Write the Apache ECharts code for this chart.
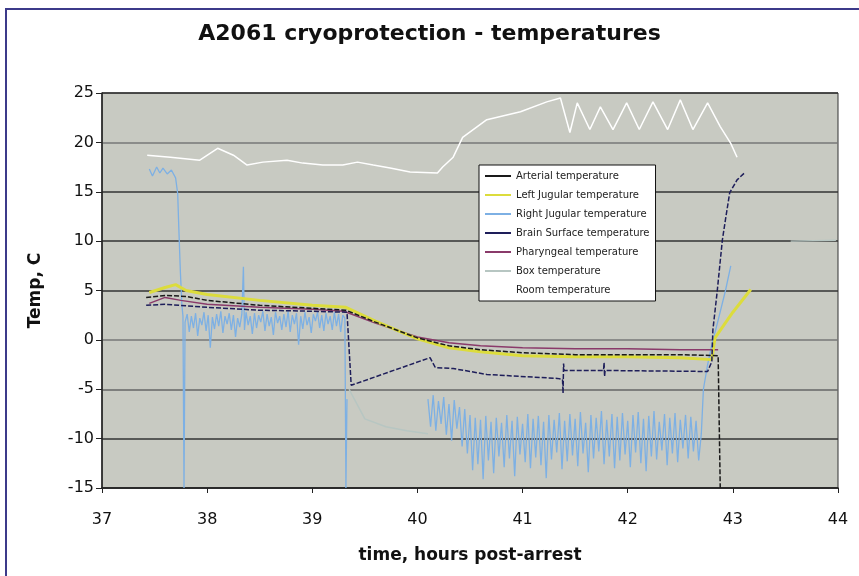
<!DOCTYPE html>
<html>
<head>
<meta charset="utf-8">
<script src="https://cdn.jsdelivr.net/npm/echarts@6/dist/echarts.min.js"></script>
<style>
  html, body { margin: 0; padding: 0; background: #fff; }
  #chart { width: 859px; height: 576px; }
</style>
</head>
<body>
<div id="chart"></div>
<script>
// legend names, in the order shown in the box
const seriesNames = [
  "Arterial temperature",
  "Left Jugular temperature",
  "Right Jugular temperature",
  "Brain Surface temperature",
  "Pharyngeal temperature",
  "Box temperature",
  "Room temperature"
];
const yTicks = [-15, -10, -5, 0, 5, 10, 15, 20, 25];
const xTicks = [37, 38, 39, 40, 41, 42, 43, 44];

// [time (h post-arrest), temp (C)]
const arterialTemp = [
  [37.42, 4.3], [37.6, 4.5], [37.8, 4.4], [38.0, 4.0], [38.5, 3.5], [39.0, 3.2],
  [39.32, 3.0], [39.6, 1.8], [40.0, 0.2], [40.3, -0.6], [40.6, -1.0], [41.0, -1.3],
  [41.5, -1.5], [42.0, -1.5], [42.5, -1.5], [42.86, -1.6], [42.88, -15]
];
const leftJugularTemp = [
  [37.45, 4.8], [37.6, 5.3], [37.7, 5.6], [37.8, 5.0], [38.0, 4.6], [38.5, 4.0],
  [39.0, 3.5], [39.32, 3.3], [39.6, 1.9], [40.0, 0.1], [40.3, -0.8], [40.6, -1.2],
  [41.0, -1.6], [41.5, -1.7], [42.0, -1.7], [42.5, -1.8], [42.8, -2.0], [42.83, 0.2],
  [43.0, 2.8], [43.17, 5.1]
];
const rightJugularTemp = [
  [37.45, 17.3], [37.48, 16.6], [37.52, 17.5], [37.55, 16.9], [37.58, 17.4], [37.62, 16.8],
  [37.66, 17.2], [37.70, 16.4], [37.72, 14.8], [37.73, 11.5], [37.745, 7.0], [37.76, 3.5],
  [37.77, 2.4], [37.78, -15], [37.79, 1.8],
  [37.81, 2.6], [37.83, 0.8], [37.85, 2.4], [37.87, 1.2], [37.89, 2.7], [37.91, 0.4],
  [37.93, 2.2], [37.95, 1.5], [37.97, 2.8], [37.99, 0.9], [38.01, 2.5], [38.03, -0.8],
  [38.05, 2.3], [38.07, 1.1], [38.09, 2.6], [38.11, 1.4], [38.13, 2.9], [38.15, 0.7],
  [38.17, 2.4], [38.19, 1.6], [38.21, 2.7], [38.23, 1.0], [38.25, 2.5], [38.27, 0.3],
  [38.29, 2.2], [38.31, 1.3], [38.33, 2.6], [38.345, 7.4], [38.355, 1.0], [38.37, 2.8],
  [38.39, 1.5], [38.41, 2.4], [38.43, 0.6], [38.45, 2.7], [38.47, 1.2], [38.49, 2.5],
  [38.51, 1.8], [38.53, 2.9], [38.55, 0.9], [38.57, 2.6], [38.59, 1.4], [38.61, 2.3],
  [38.63, 0.5], [38.65, 2.8], [38.67, 1.7], [38.69, 2.4], [38.71, 1.0], [38.73, 2.6],
  [38.75, 1.3], [38.77, 2.9], [38.79, 0.8], [38.81, 2.5], [38.83, 1.6], [38.85, 2.7],
  [38.87, -0.5], [38.89, 2.4], [38.91, 1.1], [38.93, 2.8], [38.95, 1.5], [38.97, 2.3],
  [38.99, 0.7], [39.01, 2.6], [39.03, 1.9], [39.05, 2.8], [39.07, 1.2], [39.09, 2.5],
  [39.11, 0.9], [39.13, 2.7], [39.15, 1.6], [39.17, 2.4], [39.19, 1.0], [39.21, 2.8],
  [39.23, 1.4], [39.25, 2.6], [39.27, 0.8], [39.29, 2.5], [39.31, 2.2], [39.32, -15],
  [39.33, -6.0], [39.34, "-"],
  [40.10, -6.0], [40.125, -8.8], [40.15, -5.6], [40.175, -9.2], [40.20, -6.2], [40.225, -8.5],
  [40.25, -5.8], [40.275, -9.6], [40.30, -6.5], [40.325, -10.2], [40.35, -6.1], [40.375, -9.0],
  [40.40, -6.8], [40.425, -10.8], [40.45, -7.0], [40.475, -11.5], [40.50, -7.6], [40.525, -13.2],
  [40.55, -7.9], [40.575, -12.6], [40.60, -8.1], [40.625, -14.1], [40.65, -7.7], [40.675, -12.2],
  [40.70, -8.3], [40.725, -13.5], [40.75, -7.9], [40.775, -11.8], [40.80, -8.4], [40.825, -12.9],
  [40.85, -7.6], [40.875, -12.0], [40.90, -8.2], [40.925, -13.8], [40.95, -7.8], [40.975, -11.6],
  [41.00, -8.5], [41.025, -12.4], [41.05, -7.5], [41.075, -13.0], [41.10, -8.0], [41.125, -11.9],
  [41.15, -7.7], [41.175, -12.7], [41.20, -8.3], [41.225, -14.0], [41.25, -7.6], [41.275, -12.1],
  [41.30, -8.1], [41.325, -11.4], [41.35, -7.4], [41.375, -13.1], [41.40, -8.2], [41.425, -12.3],
  [41.45, -7.5], [41.475, -11.7], [41.50, -8.0], [41.525, -12.8], [41.55, -7.3], [41.575, -11.5],
  [41.60, -8.4], [41.625, -13.4], [41.65, -7.6], [41.675, -12.0], [41.70, -7.9], [41.725, -11.3],
  [41.75, -7.2], [41.775, -12.6], [41.80, -8.1], [41.825, -11.8], [41.85, -7.5], [41.875, -13.0],
  [41.90, -7.8], [41.925, -12.2], [41.95, -7.4], [41.975, -11.6], [42.00, -8.2], [42.025, -12.9],
  [42.05, -7.6], [42.075, -11.4], [42.10, -7.3], [42.125, -12.5], [42.15, -8.0], [42.175, -13.3],
  [42.20, -7.7], [42.225, -11.8], [42.25, -7.2], [42.275, -12.1], [42.30, -8.3], [42.325, -11.2],
  [42.35, -7.5], [42.375, -12.7], [42.40, -7.9], [42.425, -11.5], [42.45, -7.4], [42.475, -12.4],
  [42.50, -8.1], [42.525, -11.0], [42.55, -7.6], [42.575, -12.0], [42.60, -7.8], [42.625, -11.3],
  [42.65, -8.2], [42.675, -12.2], [42.70, -9.5],
  [42.72, -5.0], [42.76, -2.5], [42.80, -0.5], [42.86, 2.0], [42.93, 5.0], [42.98, 7.5]
];
const brainSurfaceTemp = [
  [37.42, 3.5], [37.6, 3.6], [38.0, 3.3], [38.5, 3.0], [39.0, 2.9], [39.33, 2.8],
  [39.37, -4.6], [40.12, -1.8], [40.17, -2.8], [40.34, -2.9], [40.66, -3.5], [40.98, -3.7],
  [41.33, -3.9], [41.38, -4.0], [41.385, -5.4], [41.39, -2.4], [41.395, -3.1], [41.77, -3.1],
  [41.775, -2.3], [41.78, -3.7], [41.785, -3.1], [42.76, -3.2], [42.8, -2.2], [42.81, 1.0],
  [42.85, 4.8], [42.9, 10.1], [42.93, 12.2], [42.97, 14.9], [43.04, 16.2], [43.12, 17.0]
];
const pharyngealTemp = [
  [37.45, 3.7], [37.6, 4.3], [37.75, 4.0], [38.0, 3.6], [38.5, 3.3], [39.0, 3.1],
  [39.3, 2.9], [39.6, 1.7], [40.0, 0.3], [40.3, -0.3], [40.6, -0.6], [41.0, -0.8],
  [41.5, -0.9], [42.0, -0.9], [42.5, -1.0], [42.86, -1.0]
];
const boxTemp = [
  [39.35, -5.0], [39.5, -8.0], [39.7, -8.8], [39.9, -9.2], [40.1, -9.5], [40.2, "-"],
  [43.55, 10.0], [43.98, 10.1]
];
const roomTemp = [
  [37.43, 18.7], [37.65, 18.5], [37.93, 18.2], [38.1, 19.4], [38.25, 18.7], [38.38, 17.7],
  [38.53, 18.0], [38.76, 18.2], [38.91, 17.9], [39.1, 17.7], [39.29, 17.7], [39.43, 18.0],
  [39.58, 17.7], [39.74, 17.4], [39.93, 17.0], [40.19, 16.9], [40.24, 17.5], [40.34, 18.5],
  [40.43, 20.5], [40.66, 22.3], [40.98, 23.1], [41.23, 24.1], [41.36, 24.5], [41.45, 21.0],
  [41.52, 24.0], [41.64, 21.3], [41.74, 23.6], [41.86, 21.3], [41.99, 24.0], [42.11, 21.3],
  [42.24, 24.1], [42.38, 21.3], [42.5, 24.3], [42.62, 21.3], [42.76, 24.0], [42.88, 21.6],
  [42.98, 19.9], [43.04, 18.5]
];

const seriesColors = ["#1a1a1a", "#dcdc3c", "#7db0e4", "#1e1e5a", "#8a3a6a", "#b7c6c2", "#ffffff"];
const seriesData = [arterialTemp, leftJugularTemp, rightJugularTemp, brainSurfaceTemp, pharyngealTemp, boxTemp, roomTemp];
const seriesWidths = [1.5, 3, 1.3, 1.5, 1.5, 1.5, 1.5];
// draw order: noisy jugular at the bottom
const drawOrder = [2, 5, 6, 4, 1, 0, 3];

let series = [];
for (let k = 0; k < drawOrder.length; k++) {
  let i = drawOrder[k];
  series.push({
    name: seriesNames[i],
    type: "line",
    data: seriesData[i],
    symbol: "none",
    connectNulls: false,
    color: seriesColors[i],
    lineStyle: {
      color: seriesColors[i],
      width: seriesWidths[i],
      type: (i === 0 || i === 3) ? [5, 2] : "solid"
    },
    animation: false
  });
}

const font = "DejaVu Sans";
let myChart = echarts.init(document.getElementById("chart"));
let option = {
  backgroundColor: "#ffffff",
  title: {
    text: "A2061 cryoprotection - temperatures",
    left: "center",
    top: 23,
    padding: 0,
    textStyle: { fontFamily: font, fontSize: 22, fontWeight: "bold", color: "#111" }
  },
  graphic: [{
    type: "rect",
    shape: { x: 6, y: 9, width: 900, height: 700 },
    style: { fill: "none", stroke: "#3c3a8a", lineWidth: 2 },
    silent: true
  }],
  legend: {
    orient: "vertical",
    left: 479,
    top: 165,
    data: seriesNames,
    backgroundColor: "#ffffff",
    borderColor: "#111",
    borderWidth: 1,
    padding: [4, 6, 4, 6],
    itemGap: 5,
    itemWidth: 26,
    itemHeight: 2,
    icon: "rect",
    textStyle: { fontFamily: font, fontSize: 10, color: "#222", lineHeight: 14 }
  },
  grid: {
    left: 102,
    right: 21,
    top: 93,
    bottom: 88,
    show: true,
    backgroundColor: "#c8cac2",
    borderColor: "#333",
    borderWidth: 1
  },
  xAxis: {
    type: "value",
    min: xTicks[0],
    max: xTicks[xTicks.length - 1],
    interval: 1,
    name: "time, hours post-arrest",
    nameLocation: "middle",
    nameGap: 59,
    nameTextStyle: { fontFamily: font, fontSize: 17, fontWeight: "bold", color: "#111" },
    axisLine: { onZero: false, lineStyle: { color: "#222", width: 1.5 } },
    axisTick: { show: true, length: 5, lineStyle: { color: "#222" } },
    axisLabel: { fontFamily: font, fontSize: 16, color: "#111", margin: 24 },
    splitLine: { show: false }
  },
  yAxis: {
    type: "value",
    min: yTicks[0],
    max: yTicks[yTicks.length - 1],
    interval: 5,
    name: "Temp, C",
    nameLocation: "middle",
    nameGap: 58,
    nameTextStyle: { fontFamily: font, fontSize: 17, fontWeight: "bold", color: "#111" },
    axisLine: { show: true, onZero: false, lineStyle: { color: "#222", width: 1.5 } },
    axisTick: { show: true, length: 6, lineStyle: { color: "#222" } },
    axisLabel: { fontFamily: font, fontSize: 16, color: "#111", margin: 8 },
    splitLine: {
      show: true,
      lineStyle: {
        color: ["#333", "#333", "#666", "#777", "#333", "#333", "#333", "#777", "#333"],
        width: 1.5
      }
    }
  },
  series: series
};
myChart.setOption(option);
window.addEventListener("resize", () => {
  myChart.resize();
});
</script>
</body>
</html>
